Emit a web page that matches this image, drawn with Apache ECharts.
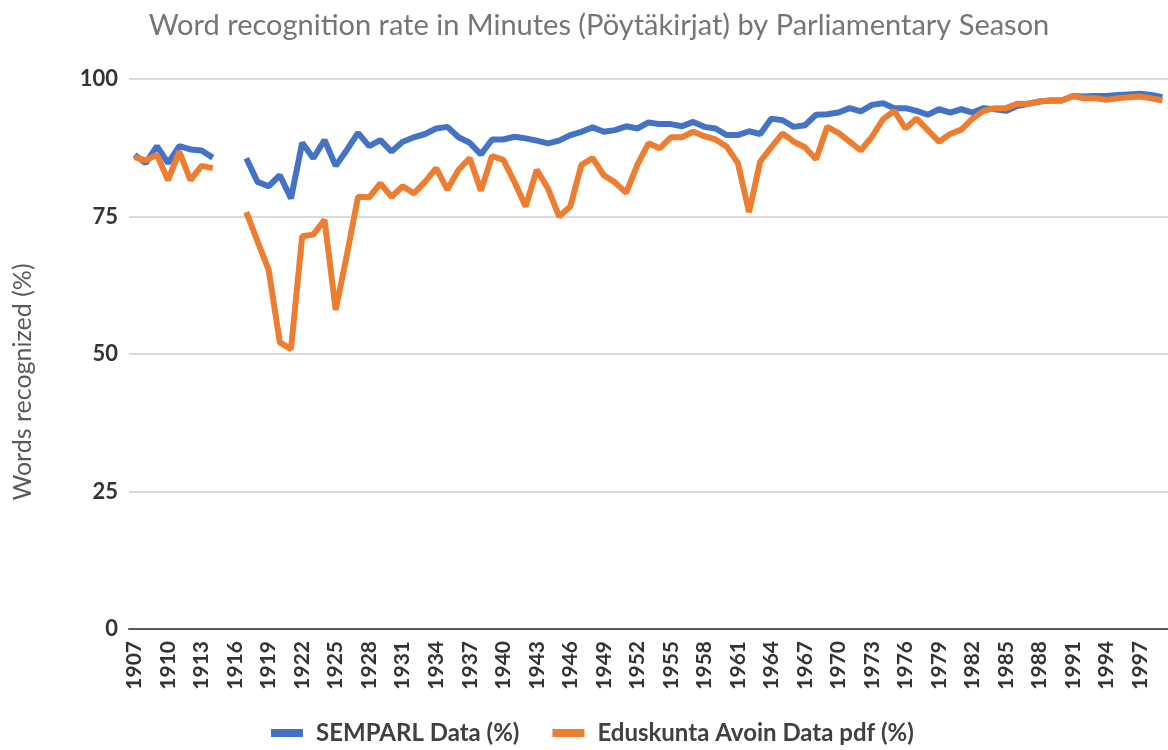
<!DOCTYPE html>
<html>
<head>
    <meta charset="UTF-8">
    <title>Word recognition rate</title>
    <script src="https://cdn.jsdelivr.net/npm/echarts@6/dist/echarts.min.js"></script>
    <style>
        html, body { margin: 0; padding: 0; background: #fff; }
        #main { width: 1168px; height: 750px; }
    </style>
</head>
<body>
<div id="main"></div>
<script type="text/javascript">
    // parliamentary seasons 1907-1999 (no sessions in 1915-1916)
    var years = [];
    for (var y = 1907; y <= 1999; y++) {
        years.push(String(y));
    }

    var semparl = [
        86.2, 84.7, 87.8, 84.7, 87.8, 87.2, 87.0, 85.7, null, null,
        85.6, 81.3, 80.5, 82.5, 78.3, 88.4, 85.6, 88.9, 84.2, 87.1,
        90.2, 87.8, 88.9, 86.8, 88.6, 89.4, 90.0, 91.0, 91.3, 89.4,
        88.4, 86.3, 89.0, 89.0, 89.5, 89.2, 88.8, 88.3, 88.8, 89.8,
        90.4, 91.2, 90.4, 90.7, 91.4, 91.0, 92.1, 91.8, 91.8, 91.4,
        92.2, 91.3, 91.0, 89.8, 89.8, 90.5, 90.0, 92.8, 92.5, 91.3,
        91.6, 93.5, 93.6, 93.9, 94.7, 94.1, 95.3, 95.6, 94.7, 94.7,
        94.2, 93.5, 94.5, 93.9, 94.5, 93.9, 94.7, 94.5, 94.2, 95.1,
        95.5, 95.9, 96.1, 96.1, 96.9, 96.8, 96.9, 96.9, 97.1, 97.2,
        97.3, 97.1, 96.7
    ];

    var eduskunta = [
        85.8, 85.2, 86.2, 81.6, 86.8, 81.6, 84.2, 83.8, null, null,
        75.8, 70.5, 65.3, 52.1, 50.9, 71.4, 71.7, 74.4, 58.0, 68.0,
        78.6, 78.5, 81.0, 78.6, 80.5, 79.2, 81.3, 83.8, 79.9, 83.5,
        85.6, 79.7, 86.0, 85.3, 81.3, 76.8, 83.5, 80.1, 75.0, 76.8,
        84.4, 85.6, 82.5, 81.2, 79.3, 84.4, 88.3, 87.4, 89.4, 89.4,
        90.4, 89.6, 89.0, 87.7, 84.7, 75.8, 85.0, 87.6, 90.1, 88.6,
        87.6, 85.4, 91.3, 90.2, 88.6, 87.0, 89.5, 92.7, 94.2, 91.0,
        92.8, 90.7, 88.6, 90.0, 90.8, 92.8, 94.2, 94.7, 94.7, 95.5,
        95.5, 95.9, 96.1, 96.1, 96.9, 96.5, 96.5, 96.2, 96.5, 96.7,
        96.8, 96.5, 96.1
    ];

    var yTicks = [0, 25, 50, 75, 100];

    var fontFamily = 'Lato, "Open Sans", sans-serif';

    var myChart = echarts.init(document.getElementById('main'));
    var option = {
        animation: false,
        title: {
            text: 'Word recognition rate in Minutes (Pöytäkirjat) by Parliamentary Season',
            left: 594,
            textAlign: 'center',
            top: 6,
            textStyle: {
                fontFamily: fontFamily,
                fontSize: 29,
                fontWeight: 'normal',
                color: '#757575'
            }
        },
        legend: {
            bottom: 0,
            left: 266,
            icon: 'rect',
            itemWidth: 32,
            itemHeight: 8,
            itemGap: 33,
            textStyle: {
                fontFamily: fontFamily,
                fontSize: 24,
                fontWeight: 'bold',
                color: '#404040',
                padding: [0, 0, 0, 8]
            },
            data: ['SEMPARL Data (%)', 'Eduskunta Avoin Data pdf (%)']
        },
        grid: {
            left: 129,
            right: 0,
            top: 79,
            bottom: 121,
            outerBoundsMode: 'none'
        },
        xAxis: {
            type: 'category',
            data: years,
            boundaryGap: true,
            axisLine: {lineStyle: {color: '#595959', width: 2}},
            axisTick: {show: false},
            axisLabel: {
                rotate: 90,
                interval: 2,
                margin: 12,
                fontFamily: fontFamily,
                fontSize: 21,
                fontWeight: 'bold',
                color: '#333333'
            }
        },
        yAxis: {
            type: 'value',
            min: yTicks[0],
            max: yTicks[yTicks.length - 1],
            interval: 25,
            name: 'Words recognized (%)',
            nameLocation: 'middle',
            nameGap: 94,
            nameTextStyle: {
                fontFamily: fontFamily,
                fontSize: 25,
                color: '#595959',
                padding: [0, 56, 0, 0]
            },
            axisLine: {show: false},
            axisTick: {show: false},
            axisLabel: {
                margin: 11,
                fontFamily: fontFamily,
                fontSize: 22,
                fontWeight: 'bold',
                color: '#333333'
            },
            splitLine: {lineStyle: {color: '#d9d9d9', width: 2}}
        },
        series: [
            {
                name: 'SEMPARL Data (%)',
                type: 'line',
                data: semparl,
                showSymbol: false,
                symbol: 'none',
                color: '#4472C4',
                lineStyle: {width: 6, color: '#4472C4'}
            },
            {
                name: 'Eduskunta Avoin Data pdf (%)',
                type: 'line',
                data: eduskunta,
                showSymbol: false,
                symbol: 'none',
                color: '#ED7D31',
                lineStyle: {width: 6, color: '#ED7D31'}
            }
        ]
    };
    myChart.setOption(option);
</script>
</body>
</html>
